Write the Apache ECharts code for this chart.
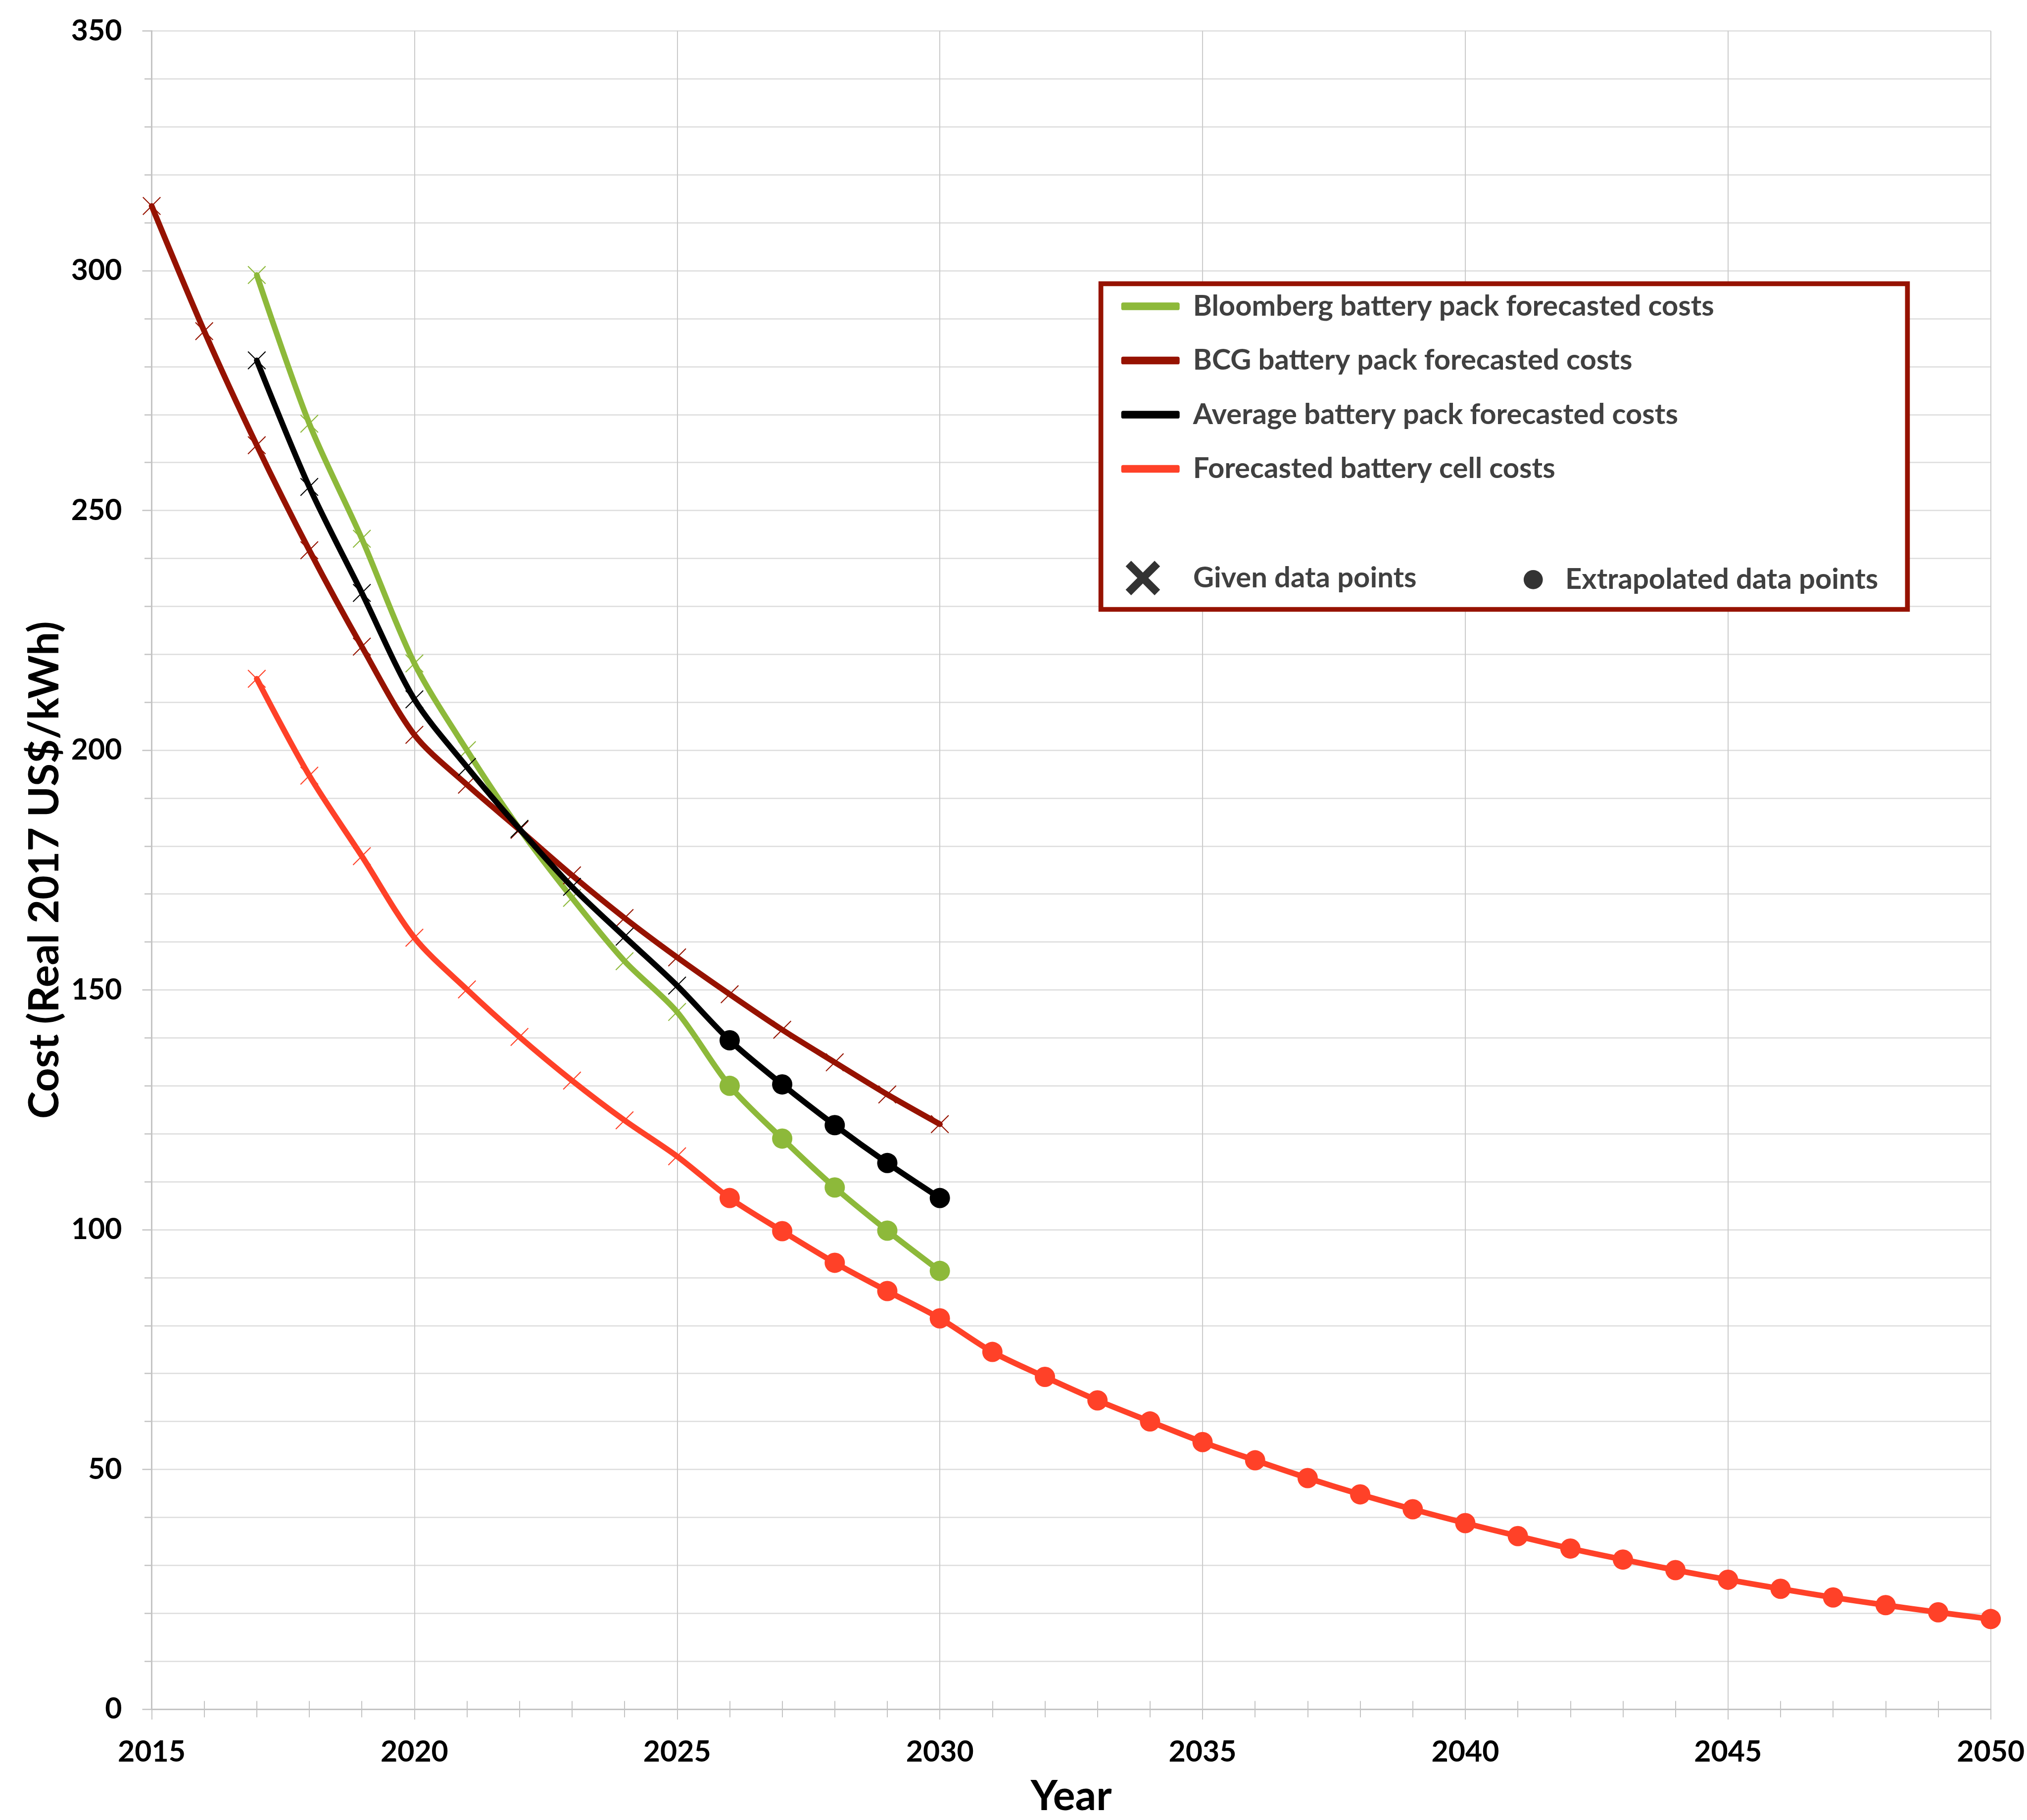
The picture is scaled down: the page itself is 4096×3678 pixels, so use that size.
<!DOCTYPE html>
<html><head><meta charset="utf-8">
<script src="https://cdn.jsdelivr.net/npm/echarts@6/dist/echarts.min.js"></script>
<style>html,body{margin:0;padding:0;background:#fff}#c{width:4096px;height:3678px}</style>
</head><body><div id="c"></div>
<script>
// ---- data ----
const xTicks = [2015, 2020, 2025, 2030, 2035, 2040, 2045, 2050];
const yTicks = [0, 50, 100, 150, 200, 250, 300, 350];

const seriesNames = [
  'Bloomberg battery pack forecasted costs',
  'BCG battery pack forecasted costs',
  'Average battery pack forecasted costs',
  'Forecasted battery cell costs'
];

const bloombergYears = [2017,2018,2019,2020,2021,2022,2023,2024,2025,2026,2027,2028,2029,2030];
const bloombergCost  = [299.1,268.1,244.1,218.1,200.0,183.6,169.2,156.0,145.4,130.0,119.0,108.8,99.8,91.4];
const bloombergLastGiven = 2025;

const bcgYears = [2015,2016,2017,2018,2019,2020,2021,2022,2023,2024,2025,2026,2027,2028,2029,2030];
const bcgCost  = [313.5,287.4,263.6,241.7,221.6,203.2,192.8,183.4,173.9,165.0,156.8,149.1,141.7,134.9,128.2,122.0];
const bcgLastGiven = 2030;

const averageYears = [2017,2018,2019,2020,2021,2022,2023,2024,2025,2026,2027,2028,2029,2030];
const averageCost  = [281.3,254.9,232.8,210.6,196.5,183.6,171.5,161.1,150.9,139.5,130.3,121.8,113.9,106.6];
const averageLastGiven = 2025;

const cellYears = [2017,2018,2019,2020,2021,2022,2023,2024,2025,2026,2027,2028,2029,2030,
  2031,2032,2033,2034,2035,2036,2037,2038,2039,2040,2041,2042,2043,2044,2045,2046,2047,2048,2049,2050];
const cellCost  = [214.9,194.7,177.9,160.9,150.1,140.2,131.1,122.8,115.3,106.6,99.7,93.1,87.2,81.5,
  74.5,69.3,64.4,60.0,55.7,51.9,48.2,44.8,41.7,38.8,36.1,33.5,31.2,29.0,27.0,25.1,23.3,21.7,20.2,18.8];
const cellLastGiven = 2025;

const markerNames = ['Given data points', 'Extrapolated data points'];

// ---- styling ----
const colors = ['#8DB93A', '#961200', '#000000', '#FF4128'];
const FONT = 'Lato';
const X_THIN = 'path://M0,4 L4,0 L50,46 L96,0 L100,4 L54,50 L100,96 L96,100 L50,54 L4,100 L0,96 L46,50 Z';
const X_THICK = 'path://M0,16 L16,0 L50,34 L84,0 L100,16 L66,50 L100,84 L84,100 L50,66 L16,100 L0,84 L34,50 Z';

function toData(years, values, lastGiven) {
  return years.map((y, i) => {
    const given = y <= lastGiven;
    return {
      value: [y, values[i]],
      symbol: given ? X_THIN : 'circle',
      symbolSize: given ? 37 : 41
    };
  });
}

const allYears = [bloombergYears, bcgYears, averageYears, cellYears];
const allCosts = [bloombergCost, bcgCost, averageCost, cellCost];
const allLast = [bloombergLastGiven, bcgLastGiven, averageLastGiven, cellLastGiven];

const lineSeries = seriesNames.map((name, k) => ({
  type: 'line',
  name: name,
  xAxisIndex: 0,
  yAxisIndex: 0,
  data: toData(allYears[k], allCosts[k], allLast[k]),
  smooth: 0.3,
  showAllSymbol: true,
  lineStyle: { width: 11.5, color: colors[k], cap: 'round', join: 'round' },
  itemStyle: { color: colors[k], borderWidth: 0 },
  emphasis: { disabled: true },
  z: 2 + k * 0.1
}));

const dummySeries = markerNames.map(name => ({
  type: 'scatter', name: name, data: [], itemStyle: { color: '#000' }
}));

const labelFont = { fontFamily: FONT, fontWeight: 'bold', fontSize: 59, color: '#000' };
const legendText = { fontFamily: FONT, fontWeight: 'bold', fontSize: 58, color: '#404040', lineHeight: 62 };
const titleFont = { fontFamily: FONT, fontWeight: 'bold', fontSize: 84, color: '#000' };

const option = {
  backgroundColor: '#fff',
  animation: false,
  grid: { left: 306.5, top: 62.6, right: 73.3, bottom: 206.5, containLabel: false },
  xAxis: [{
    type: 'value', min: xTicks[0], max: xTicks[xTicks.length - 1], interval: xTicks[1] - xTicks[0],
    name: 'Year', nameLocation: 'middle', nameGap: 135,
    nameTextStyle: titleFont,
    axisLine: { show: true, lineStyle: { color: '#C4C4C4', width: 3 } },
    axisTick: { show: true, length: 21, lineStyle: { color: '#C4C4C4', width: 2 } },
    minorTick: { show: true, splitNumber: 5, length: 16.5, lineStyle: { color: '#C4C4C4', width: 2 } },
    axisLabel: Object.assign({ margin: 57, lineHeight: 59, formatter: v => String(v) }, labelFont),
    splitLine: { show: true, lineStyle: { color: '#CACACA', width: 2 } }
  }, {
    type: 'value', min: xTicks[0], max: xTicks[xTicks.length - 1], interval: xTicks[1] - xTicks[0],
    position: 'bottom',
    axisLine: { show: false }, axisLabel: { show: false }, splitLine: { show: false },
    axisTick: { show: false, inside: true },
    minorTick: { show: true, splitNumber: 5, length: 16.5, lineStyle: { color: '#C4C4C4', width: 2 } }
  }],
  yAxis: [{
    type: 'value', min: yTicks[0], max: yTicks[yTicks.length - 1], interval: yTicks[1] - yTicks[0],
    name: 'Cost (Real 2017 US$/kWh)', nameLocation: 'middle', nameGap: 174,
    nameTextStyle: titleFont,
    axisLine: { show: true, lineStyle: { color: '#C4C4C4', width: 3 } },
    axisTick: { show: true, length: 19, lineStyle: { color: '#C4C4C4', width: 2.5 } },
    minorTick: { show: true, splitNumber: 5, length: 14.5, lineStyle: { color: '#C4C4C4', width: 2.5 } },
    axisLabel: Object.assign({ margin: 60, formatter: v => String(v) }, labelFont),
    splitLine: { show: true, lineStyle: { color: '#DDDDDD', width: 2.5 } },
    minorSplitLine: { show: true, lineStyle: { color: '#DDDDDD', width: 2.5 } }
  }],
  legend: [{
    data: seriesNames.map(n => ({ name: n, icon: 'roundRect' })),
    orient: 'vertical', left: 2265.7, top: 588, padding: 0,
    itemWidth: 118, itemHeight: 15.5, itemGap: 47.5,
    selectedMode: false,
    textStyle: Object.assign({ padding: [0, 0, 0, 22] }, legendText)
  }, {
    data: [{ name: markerNames[0], icon: X_THICK }],
    left: 2274.6, top: 1133.3, padding: 0,
    itemWidth: 69.6, itemHeight: 69.6, selectedMode: false,
    textStyle: Object.assign({ padding: [0, 0, 0, 61.7] }, legendText)
  }, {
    data: [{ name: markerNames[1], icon: 'circle' }],
    left: 3078.9, top: 1140.4, padding: 0,
    itemWidth: 38.7, itemHeight: 38.7, selectedMode: false,
    textStyle: Object.assign({ padding: [0, 0, 0, 40.4] }, legendText)
  }],
  graphic: [{
    type: 'rect', z: 3,
    shape: { x: 2224.6, y: 573.4, width: 1629.8, height: 658.1 },
    style: { fill: '#fff', stroke: '#961200', lineWidth: 9.7 }
  }],
  series: lineSeries.concat(dummySeries)
};

const chart = echarts.init(document.getElementById('c'), null, { renderer: 'canvas' });
chart.setOption(option);
</script>
</body></html>
